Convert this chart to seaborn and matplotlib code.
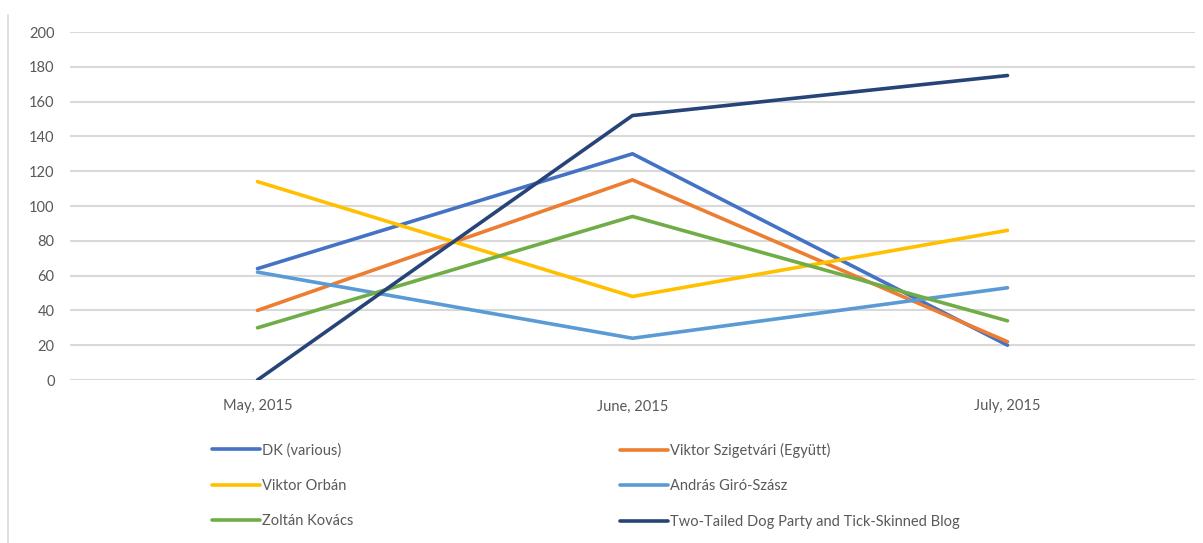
import numpy as np
import pandas as pd
import matplotlib
matplotlib.use("Agg")
import matplotlib.pyplot as plt
from matplotlib.lines import Line2D
import seaborn as sns

# data
months = ["May, 2015", "June, 2015", "July, 2015"]
dk = [64, 130, 20]
szigetvari = [40, 115, 22]
orban = [114, 48, 86]
giro_szasz = [62, 24, 53]
kovacs = [30, 94, 34]
two_tailed = [0, 152, 175]

names = ["DK (various)", "Viktor Szigetvári (Együtt)", "Viktor Orbán",
         "András Giró-Szász", "Zoltán Kovács",
         "Two-Tailed Dog Party and Tick-Skinned Blog"]
series = [dk, szigetvari, orban, giro_szasz, kovacs, two_tailed]
colors = ["#4472C4", "#ED7D31", "#FFC000", "#5B9BD5", "#70AD47", "#264478"]

rows = []
for n, vals in zip(names, series):
    for m, v in zip(months, vals):
        rows.append({"month": m, "value": v, "who": n})
df = pd.DataFrame(rows)

sns.set_style("white")
plt.rcParams["font.family"] = ["Lato", "DejaVu Sans"]

fig = plt.figure(figsize=(12.03, 5.43), dpi=100)
ax = fig.add_axes([70 / 1203, 1 - 380 / 543, 1125 / 1203, 348 / 543])

sns.lineplot(data=df, x="month", y="value", hue="who", hue_order=names,
             palette=colors, sort=False, lw=2.6, ax=ax, legend=False,
             zorder=3)

ax.set_xlim(-0.5, 2.5)
ax.set_ylim(0, 200)
ax.set_yticks(np.arange(0, 201, 20))
ax.yaxis.grid(True, color="#D9D9D9", lw=1.5, zorder=0)
ax.xaxis.grid(False)
for s in ax.spines.values():
    s.set_visible(False)
ax.set_xlabel("")
ax.set_ylabel("")
ax.tick_params(axis="y", length=0, pad=11, labelsize=10.5, labelcolor="#595959")
ax.tick_params(axis="x", length=0, pad=14, labelsize=10.5, labelcolor="#595959")

# thin border at the left edge
fig.add_artist(Line2D([8 / 1203, 8 / 1203], [0, 1 - 15 / 543],
                      color="#D9D9D9", lw=1.2, transform=fig.transFigure))

handles = [Line2D([], [], color=c, lw=2.6) for c in colors]
left_idx = [0, 2, 4]
right_idx = [1, 3, 5]
common = dict(loc="upper left", frameon=False, fontsize=10.5, borderpad=0,
              borderaxespad=0, handlelength=3.3, handletextpad=0.15,
              labelspacing=1.47, labelcolor="#595959")
leg1 = fig.legend([handles[i] for i in left_idx], [names[i] for i in left_idx],
                  bbox_to_anchor=(212 / 1203, 1 - 443 / 543), **common)
leg2 = fig.legend([handles[i] for i in right_idx], [names[i] for i in right_idx],
                  bbox_to_anchor=(620 / 1203, 1 - 443 / 543), **common)

fig.savefig("out.png", dpi=100)
